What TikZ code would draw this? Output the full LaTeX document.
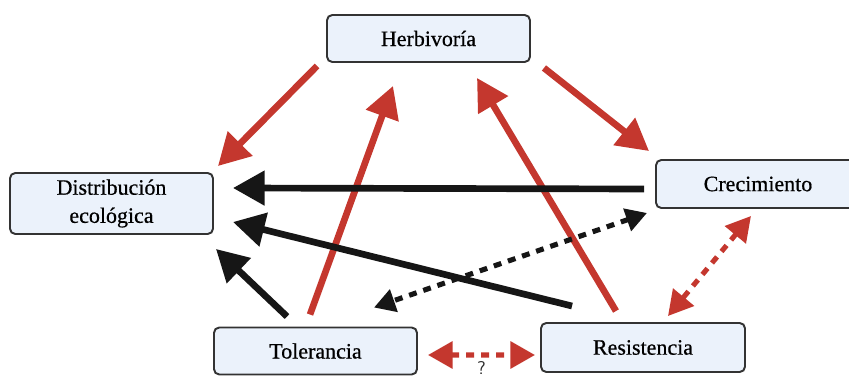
\documentclass[tikz,border=0pt]{standalone}
\usepackage{fontspec}
\setmainfont{Liberation Serif}
\newfontfamily\boxfont{Liberation Serif}[RawFeature={embolden=0.6}]
\usetikzlibrary{arrows.meta,calc}
\definecolor{boxfill}{HTML}{EBF2FB}
\definecolor{boxline}{HTML}{333333}
\definecolor{arrred}{HTML}{C4372E}
\definecolor{arrblack}{HTML}{161616}

\begin{document}
\begin{tikzpicture}[
  x=0.02cm, y=-0.02cm,
  every node/.style={font=\boxfont\fontsize{12.5}{16}\selectfont},
  box/.style={draw=boxline, line width=1.1pt, rounded corners=3pt, fill=boxfill,
    minimum width=203*0.02cm, minimum height=47*0.02cm, align=center, inner sep=0pt},
  redarr/.style={draw=arrred, line width=3.8pt, -{Triangle[length=18pt,width=19pt]}},
  blkarr/.style={draw=arrblack, line width=3.8pt, -{Triangle[length=18pt,width=19pt]}},
  reddot/.style={draw=arrred, line width=2.9pt, dash pattern=on 4.5pt off 4pt,
    {Triangle[length=14pt,width=15pt]}-{Triangle[length=14pt,width=15pt]}},
  blkdot/.style={draw=arrblack, line width=2.9pt, dash pattern=on 4.5pt off 4pt,
    {Triangle[length=12pt,width=13pt]}-{Triangle[length=12pt,width=13pt]}}
]
  \clip (0,0) rectangle (849,381);

  % Boxes
  \node[box] (herb) at (428.5,38.5) {Herbivoría};
  \node[box, minimum height=61*0.02cm] (dist) at (111.5,203.5) {Distribución\\ecológica};
  \node[box, minimum width=204*0.02cm, minimum height=48*0.02cm] (crec) at (758,184) {Crecimiento};
  \node[box] (tol) at (315.5,351) {Tolerancia};
  \node[box, minimum width=204*0.02cm, minimum height=49*0.02cm] (res) at (643,347.5) {Resistencia};

  % Red arrows
  \draw[redarr] ($(herb.south west)+(-9,3)$) -- ($(dist.north east)+(4,-6)$);
  \draw[redarr] ($(tol.north)+(-5.5,-12)$) -- ($(herb.south)+(-35.5,23)$);
  \draw[redarr] ($(res.north)+(-27,-11)$) -- ($(herb.south)+(48.5,15)$);
  \draw[redarr] ($(herb.south east)+(13,5)$) -- ($(crec.north west)+(-6,-8)$);

  % Black arrows
  \draw[blkarr] ($(crec.west)+(-11,5)$) -- ($(dist.east)+(19,-15.5)$);
  \draw[blkarr] ($(res.north west)+(32,-16)$) -- ($(dist.east)+(19,18.5)$);
  \draw[blkarr] ($(tol.north west)+(74,-10)$) -- ($(dist.south east)+(2,14)$);

  % Dotted links
  \draw[blkdot] ($(crec.south west)+(-8,4)$) -- ($(tol.north east)+(-44,-19)$);
  \draw[reddot] ($(crec.south)+(-7,7)$) -- ($(res.north east)+(-78,-6)$);
  \draw[reddot] ($(tol.east)+(10,4)$) -- node[below=2.5pt, inner sep=0pt, font=\sffamily\fontsize{10.5}{11}\selectfont, text=arrblack!90] (q) {?} ($(res.west)+(-5,7.5)$);
\end{tikzpicture}
\end{document}
